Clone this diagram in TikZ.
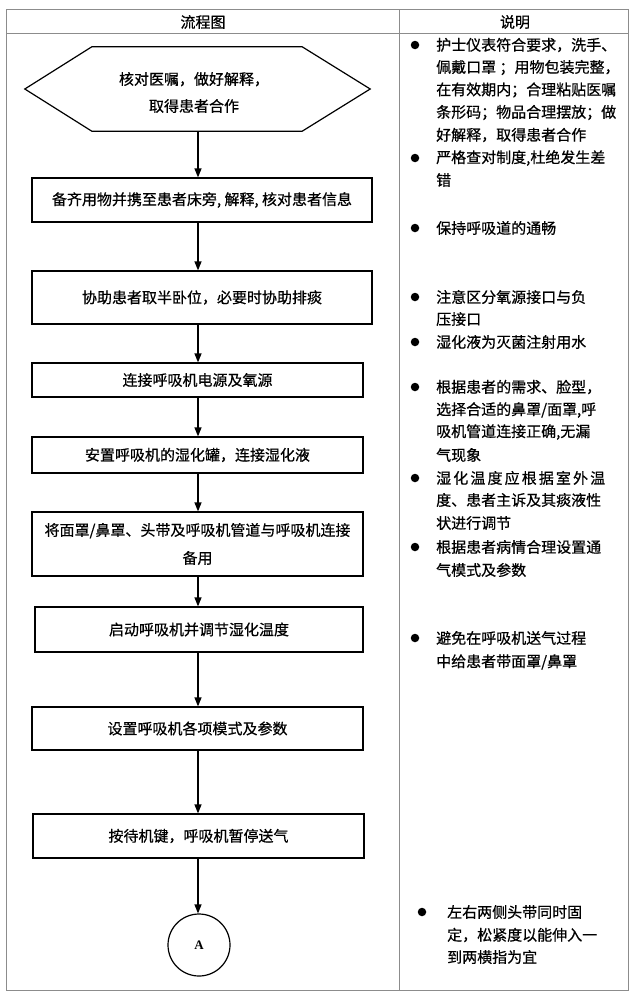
\documentclass[tikz,border=0pt]{standalone}
\usepackage{fontspec}
\setmainfont{Liberation Serif}
\newfontfamily\cjk[FakeBold=0.6]{Noto Sans CJK SC}
\usetikzlibrary{arrows.meta}
\begin{document}
\begin{tikzpicture}[x=1pt,y=-1pt,
  grid/.style={draw=black!45, line width=0.8pt},
  txt/.style={inner sep=0pt, font=\cjk\fontsize{15pt}{18pt}\selectfont, align=center},
  stepbox/.style={draw, line width=1.2pt, inner sep=0pt, font=\cjk\fontsize{15pt}{18pt}\selectfont, align=center},
  arr/.style={-{Triangle[length=9pt,width=7pt]}, line width=1.2pt},
  note/.style={anchor=west, inner sep=0pt, font=\cjk\fontsize{15pt}{18pt}\selectfont},
  dot/.style={circle, fill=black, inner sep=0pt, minimum size=8.5pt}]
\useasboundingbox (0,0) rectangle (639,1001);
% table
\draw[grid] (6,9) rectangle (628,990);
\draw[grid] (6,33) -- (628,33);
\draw[grid] (399,9) -- (399,990);
\node[txt] (h1) at (203,22) {流程图};
\node[txt] (h2) at (515,22) {说明};
% flow chart
\coordinate (ax) at (198,0);
\node[minimum width=345pt, minimum height=84pt, inner sep=0pt] (hex) at (197.5,89) {};
\draw[line width=1.2pt] (hex.west) -- ([xshift=67pt]hex.north west) -- ([xshift=-68pt]hex.north east) -- (hex.east) -- ([xshift=-68pt]hex.south east) -- ([xshift=67pt]hex.south west) -- cycle;
\node[txt, font=\cjk\fontsize{15pt}{27pt}\selectfont] (hext) at (194,92.5) {核对医嘱，做好解释，\\取得患者合作};
\node[stepbox, minimum width=340pt, minimum height=44pt] (b1) at (202,200) {备齐用物并携至患者床旁, 解释, 核对患者信息};
\node[stepbox, minimum width=340pt, minimum height=53pt] (b2) at (202,297.5) {协助患者取半卧位，必要时协助排痰};
\node[stepbox, minimum width=331pt, minimum height=34pt] (b3) at (197.5,380) {连接呼吸机电源及氧源};
\node[stepbox, minimum width=331pt, minimum height=36pt] (b4) at (197.5,455) {安置呼吸机的湿化罐，连接湿化液};
\node[stepbox, minimum width=331pt, minimum height=64pt, font=\cjk\fontsize{15pt}{28pt}\selectfont] (b5) at (197.5,544) {将面罩/鼻罩、头带及呼吸机管道与呼吸机连接\\备用};
\node[stepbox, minimum width=328pt, minimum height=45pt] (b6) at (199,629.5) {启动呼吸机并调节湿化温度};
\node[stepbox, minimum width=331pt, minimum height=43pt] (b7) at (197.5,728.5) {设置呼吸机各项模式及参数};
\node[stepbox, minimum width=331pt, minimum height=44pt] (b8) at (198.5,836) {按待机键，呼吸机暂停送气};
\node[draw, circle, line width=1.2pt, minimum size=62pt, inner sep=0pt, font=\bfseries\fontsize{13pt}{15pt}\selectfont] (c) at (199,945) {A};
\draw[arr] (hex.south -| ax) -- (b1.north -| ax);
\draw[arr] (b1.south -| ax) -- (b2.north -| ax);
\draw[arr] (b2.south -| ax) -- (b3.north -| ax);
\draw[arr] (b3.south -| ax) -- (b4.north -| ax);
\draw[arr] (b4.south -| ax) -- (b5.north -| ax);
\draw[arr] (b5.south -| ax) -- (b6.north -| ax);
\draw[arr] (b6.south -| ax) -- (b7.north -| ax);
\draw[arr] (b7.south -| ax) -- (b8.north -| ax);
\draw[arr] (b8.south -| ax) -- (c.north -| ax);
% notes
\node[dot] (d1) at (415,45) {};
\node[note] (n1a) at (436,45) {护士仪表符合要求，洗手、};
\node[note] (n1b) at (436,67.5) {佩戴口罩 ；用物包装完整，};
\node[note] (n1c) at (436,90) {在有效期内；合理粘贴医嘱};
\node[note] (n1d) at (436,112.5) {条形码；物品合理摆放；做};
\node[note] (n1e) at (436,135) {好解释，取得患者合作};
\node[dot] (d2) at (415,158) {};
\node[note] (n2a) at (436,158) {严格查对制度,杜绝发生差};
\node[note] (n2b) at (436,180) {错};
\node[dot] (d3) at (415,228) {};
\node[note] (n3a) at (436,228) {保持呼吸道的通畅};
\node[dot] (d4) at (415,297) {};
\node[note] (n4a) at (436,297) {注意区分氧源接口与负};
\node[note] (n4b) at (436,319) {压接口};
\node[dot] (d5) at (415,342) {};
\node[note] (n5a) at (436,342) {湿化液为灭菌注射用水};
\node[dot] (d6) at (415,387) {};
\node[note] (n6a) at (436,387) {根据患者的需求、脸型，};
\node[note] (n6b) at (436,410) {选择合适的鼻罩/面罩,呼};
\node[note] (n6c) at (436,432) {吸机管道连接正确,无漏};
\node[note] (n6d) at (436,455) {气现象};
\node[dot] (d7) at (415,478) {};
\node[note] (n7a) at (436,478) {\makebox[169pt][s]{湿\hfill{}化\hfill{}温\hfill{}度\hfill{}应\hfill{}根\hfill{}据\hfill{}室\hfill{}外\hfill{}温}};
\node[note] (n7b) at (436,500) {度、患者主诉及其痰液性};
\node[note] (n7c) at (436,523) {状进行调节};
\node[dot] (d8) at (415,547) {};
\node[note] (n8a) at (436,547) {根据患者病情合理设置通};
\node[note] (n8b) at (436,570) {气模式及参数};
\node[dot] (d9) at (415,638) {};
\node[note] (n9a) at (436,638) {避免在呼吸机送气过程};
\node[note] (n9b) at (436,662) {中给患者带面罩/鼻罩};
\node[dot] (d10) at (422,912) {};
\node[note] (n10a) at (447,912) {左右两侧头带同时固};
\node[note] (n10b) at (447,935) {定，松紧度以能伸入一};
\node[note] (n10c) at (447,957) {到两横指为宜};
\end{tikzpicture}
\end{document}
